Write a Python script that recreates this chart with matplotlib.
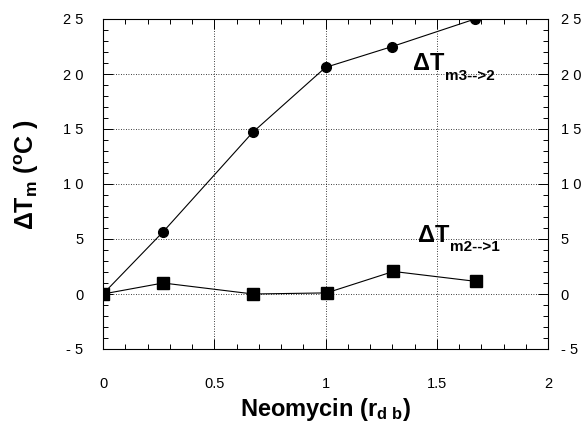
import matplotlib
matplotlib.use("Agg")
import matplotlib.pyplot as plt
from matplotlib.ticker import MultipleLocator

plt.rcParams['font.family'] = ['Liberation Sans', 'DejaVu Sans']
plt.rcParams['mathtext.fontset'] = 'custom'
plt.rcParams['mathtext.rm'] = 'Liberation Sans:bold'
plt.rcParams['mathtext.bf'] = 'Liberation Sans:bold'
plt.rcParams['mathtext.it'] = 'Liberation Sans:bold'
plt.rcParams['mathtext.default'] = 'bf'
plt.rcParams['axes.unicode_minus'] = False

# Neomycin ratio and melting-temperature shifts
ratio_32 = [0.0, 0.27, 0.673, 1.0, 1.30, 1.672]
dtm_32 = [0.0, 5.65, 14.7, 20.6, 22.5, 25.0]
ratio_21 = [0.0, 0.27, 0.675, 1.005, 1.305, 1.675]
dtm_21 = [0.0, 1.0, 0.0, 0.1, 2.05, 1.15]

xticks = [0, 0.5, 1, 1.5, 2]
xticklabels = ['0', '0.5', '1', '1.5', '2']
yticks = [-5, 0, 5, 10, 15, 20, 25]
yticklabels = ['- 5', '0', '5', '1 0', '1 5', '2 0', '2 5']

fig = plt.figure(figsize=(5.87, 4.26), dpi=100)
ax = fig.add_axes([103 / 587, 1 - 349 / 426, 445 / 587, 330 / 426])

ax.plot(ratio_32, dtm_32, color='black', lw=0.8, marker='o', ms=7,
        mfc='black', mec='black', zorder=3)
ax.plot(ratio_21, dtm_21, color='black', lw=0.8, marker='s', ms=8,
        mfc='black', mec='black', zorder=3)

ax.set_xlim(0, 2)
ax.set_ylim(-5, 25)
ax.set_xticks(xticks)
ax.set_xticklabels(xticklabels)
ax.set_yticks(yticks)
ax.set_yticklabels(yticklabels)
ax.xaxis.set_minor_locator(MultipleLocator(0.1))
ax.yaxis.set_minor_locator(MultipleLocator(1))
ax.grid(True, which='major', color='black', ls=(0, (1, 2)), lw=0.6)

ax.tick_params(axis='both', which='both', direction='in', top=True, right=True,
               labelsize=10.5, width=0.7)
ax.tick_params(axis='both', which='major', length=7)
ax.tick_params(axis='both', which='minor', length=3.5)
ax.tick_params(axis='x', which='major', pad=20)
ax.tick_params(axis='y', which='major', pad=14)
for sp in ax.spines.values():
    sp.set_linewidth(0.8)

# tick labels on the right-hand side, closer to the frame
sec = ax.secondary_yaxis('right')
sec.set_yticks(yticks)
sec.set_yticklabels(yticklabels)
sec.tick_params(axis='y', which='both', length=0, pad=9, labelsize=10.5)
sec.yaxis.set_minor_locator(MultipleLocator(100))
sec.spines['right'].set_visible(False)

ax.set_xlabel(r'Neomycin (r$_{d\ b}$)', fontsize=17, fontweight='bold', labelpad=4)
ax.set_ylabel(r'ΔT$_{m}$ ($^{o}$C )', fontsize=18, fontweight='bold')
ax.yaxis.set_label_coords(-0.140, 0.527)

ax.text(1.392, 20.38, 'ΔT', fontsize=17, fontweight='bold', ha='left', va='baseline')
ax.text(1.537, 19.47, 'm3-->2', fontsize=11, fontweight='bold', ha='left', va='baseline')
ax.text(1.417, 4.74, 'ΔT', fontsize=17, fontweight='bold', ha='left', va='baseline')
ax.text(1.56, 3.88, 'm2-->1', fontsize=11, fontweight='bold', ha='left', va='baseline')

fig.savefig('out.png', dpi=100)
